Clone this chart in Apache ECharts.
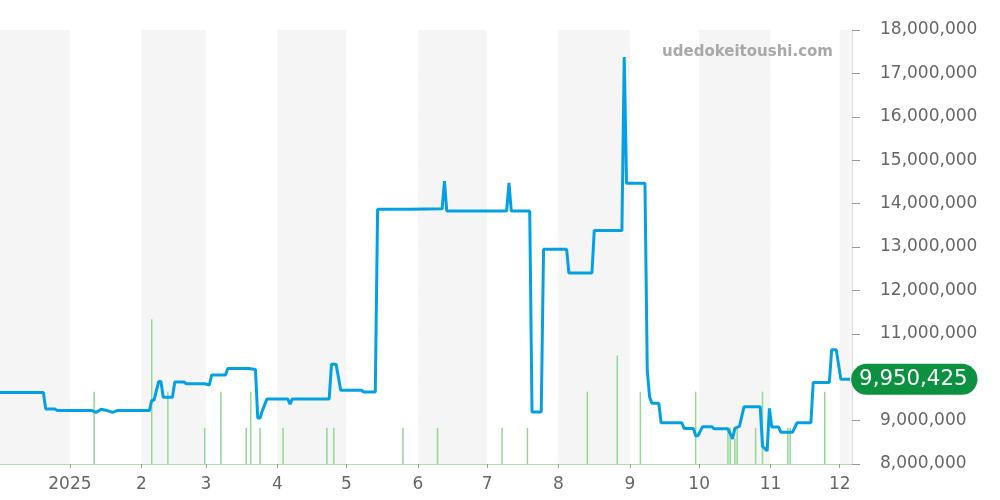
<!DOCTYPE html>
<html>
<head>
<meta charset="utf-8">
<script src="https://cdn.jsdelivr.net/npm/echarts@6/dist/echarts.min.js"></script>
<style>
html,body{margin:0;padding:0;background:#fff;}
#chart{width:1000px;height:500px;}
</style>
</head>
<body>
<div id="chart"></div>
<script>
const priceDates = [
'2024-12-01','2024-12-20','2024-12-21','2024-12-25','2024-12-26','2025-01-10','2025-01-12','2025-01-14','2025-01-16','2025-01-19','2025-01-21',
'2025-02-04','2025-02-05','2025-02-06','2025-02-08','2025-02-09','2025-02-10','2025-02-14','2025-02-15','2025-02-19','2025-02-20','2025-02-28',
'2025-03-02','2025-03-03','2025-03-09','2025-03-10','2025-03-19','2025-03-22','2025-03-23','2025-03-24','2025-03-25','2025-03-27',
'2025-04-05','2025-04-06','2025-04-07','2025-04-23','2025-04-24','2025-04-26','2025-04-28',
'2025-05-07','2025-05-08','2025-05-13','2025-05-14','2025-05-28',
'2025-06-11','2025-06-12','2025-06-13',
'2025-07-09','2025-07-10','2025-07-11','2025-07-19','2025-07-20','2025-07-24','2025-07-25',
'2025-08-04','2025-08-05','2025-08-15','2025-08-16','2025-08-28','2025-08-29','2025-08-30',
'2025-09-07','2025-09-08','2025-09-09','2025-09-10','2025-09-13','2025-09-14','2025-09-23','2025-09-24','2025-09-28','2025-09-29','2025-09-30',
'2025-10-02','2025-10-06','2025-10-07','2025-10-13','2025-10-15','2025-10-16','2025-10-18','2025-10-20','2025-10-27','2025-10-28','2025-10-30','2025-10-31',
'2025-11-01','2025-11-04','2025-11-05','2025-11-10','2025-11-12','2025-11-18','2025-11-19','2025-11-26','2025-11-27','2025-11-29',
'2025-12-01','2025-12-05'
];
const priceValues = [
9650000,9650000,9270000,9270000,9230000,9230000,9190000,9260000,9240000,9190000,9230000,
9230000,9470000,9470000,9900000,9900000,9540000,9540000,9890000,9890000,9850000,9850000,
9820000,10050000,10050000,10200000,10200000,10180000,9060000,9060000,9230000,9500000,
9500000,9380000,9500000,9500000,10300000,10300000,9700000,
9700000,9660000,9660000,13870000,13870000,
13880000,14520000,13830000,
13830000,14480000,13830000,13830000,9200000,9200000,12950000,
12950000,12400000,12400000,13380000,13380000,17380000,14470000,
14470000,10150000,9550000,9400000,9400000,8950000,8950000,8820000,8820000,8650000,8650000,
8860000,8860000,8810000,8810000,8580000,8820000,8870000,9320000,9320000,8410000,8300000,9280000,
8850000,8850000,8730000,8730000,8950000,8950000,9880000,9880000,10630000,10630000,
9950000,9950425
];
const volumeDates = [
'2025-01-11','2025-02-05','2025-02-12','2025-02-28','2025-03-07','2025-03-18','2025-03-20','2025-03-24',
'2025-04-03','2025-04-22','2025-04-25','2025-05-25','2025-06-09','2025-07-07','2025-07-18',
'2025-08-13','2025-08-26','2025-09-05','2025-09-29','2025-10-13','2025-10-14','2025-10-16','2025-10-17',
'2025-10-25','2025-10-28','2025-11-08','2025-11-09','2025-11-24'
];
const volumeValues = [2,4,2,1,2,1,2,1, 1,1,1,1,1,1,1, 2,3,2,2,1,1,0.7,1, 1,2,1,1,2];
const yTicks = {min: 8000000, max: 18000000, interval: 1000000};
const axisMin = '2024-12-02';
const axisMax = '2025-12-06';
const recordTime = 'T12:00:00';
const watermark = 'udedokeitoushi.com';

function fmt(n){ return String(n).replace(/\B(?=(\d{3})+(?!\d))/g, ','); }

const lineData = priceDates.map((d,i)=>[d + recordTime, priceValues[i]]);
const volData = volumeDates.map((d,i)=>[d + recordTime, volumeValues[i]]);
const lastIdx = priceDates.length - 1;

const chart = echarts.init(document.getElementById('chart'), null, {renderer:'canvas'});
const FONT = 'DejaVu Sans';
chart.setOption({
  animation: false,
  textStyle: {fontFamily: FONT},
  title: {
    text: watermark, right: 167, top: 45, padding: 0,
    textStyle: {color: '#a8a8a8', fontSize: 15, fontWeight: 'bold', fontFamily: FONT}
  },
  grid: {left: 0, right: 148, top: 30, bottom: 36, containLabel: false},
  xAxis: {
    type: 'time', min: axisMin, max: axisMax,
    minInterval: 28*86400000, maxInterval: 31*86400000,
    axisLine: {show: true, lineStyle: {color: '#a6d9a6', type: 'dotted', width: 1}},
    axisTick: {show: true, length: 4, lineStyle: {color: '#999'}},
    axisLabel: {
      color: '#666', fontSize: 17, margin: 12, fontFamily: FONT, showMinLabel: false,
      formatter: function(v){ const d = new Date(v); return d.getMonth() === 0 ? String(d.getFullYear()) : String(d.getMonth()+1); }
    },
    splitLine: {show: false},
    splitArea: {show: true, areaStyle: {color: ['#f5f5f5', '#ffffff']}}
  },
  yAxis: [{
    type: 'value', position: 'right', min: yTicks.min, max: yTicks.max, interval: yTicks.interval,
    axisLine: {show: true, lineStyle: {color: '#dddddd'}},
    axisTick: {show: true, length: 8, lineStyle: {color: '#999'}},
    axisLabel: {color: '#666', fontSize: 17, margin: 28, fontFamily: FONT, formatter: v => fmt(v)},
    splitLine: {show: true, lineStyle: {color: '#e2e2e2'}}
  }, {
    type: 'value', min: 0, max: 12, show: false, splitLine: {show: false}
  }],
  series: [{
    type: 'bar', yAxisIndex: 1, data: volData, barWidth: 1.5,
    itemStyle: {color: '#92d796'}, z: 1, silent: true
  }, {
    type: 'line', yAxisIndex: 0, data: lineData, symbol: 'none',
    lineStyle: {color: '#04a0e4', width: 3}, z: 3,
    markPoint: {
      symbol: 'circle', symbolSize: 0,
      data: [{coord: [priceDates[lastIdx] + recordTime, priceValues[lastIdx]]}],
      label: {
        show: true, position: 'right', distance: 1,
        formatter: () => fmt(priceValues[lastIdx]),
        color: '#fff', fontSize: 21.3, fontFamily: FONT,
        backgroundColor: '#0c9140', borderRadius: 16,
        padding: [3, 10, 3, 8], lineHeight: 25
      }
    }
  }]
});
</script>
</body>
</html>
